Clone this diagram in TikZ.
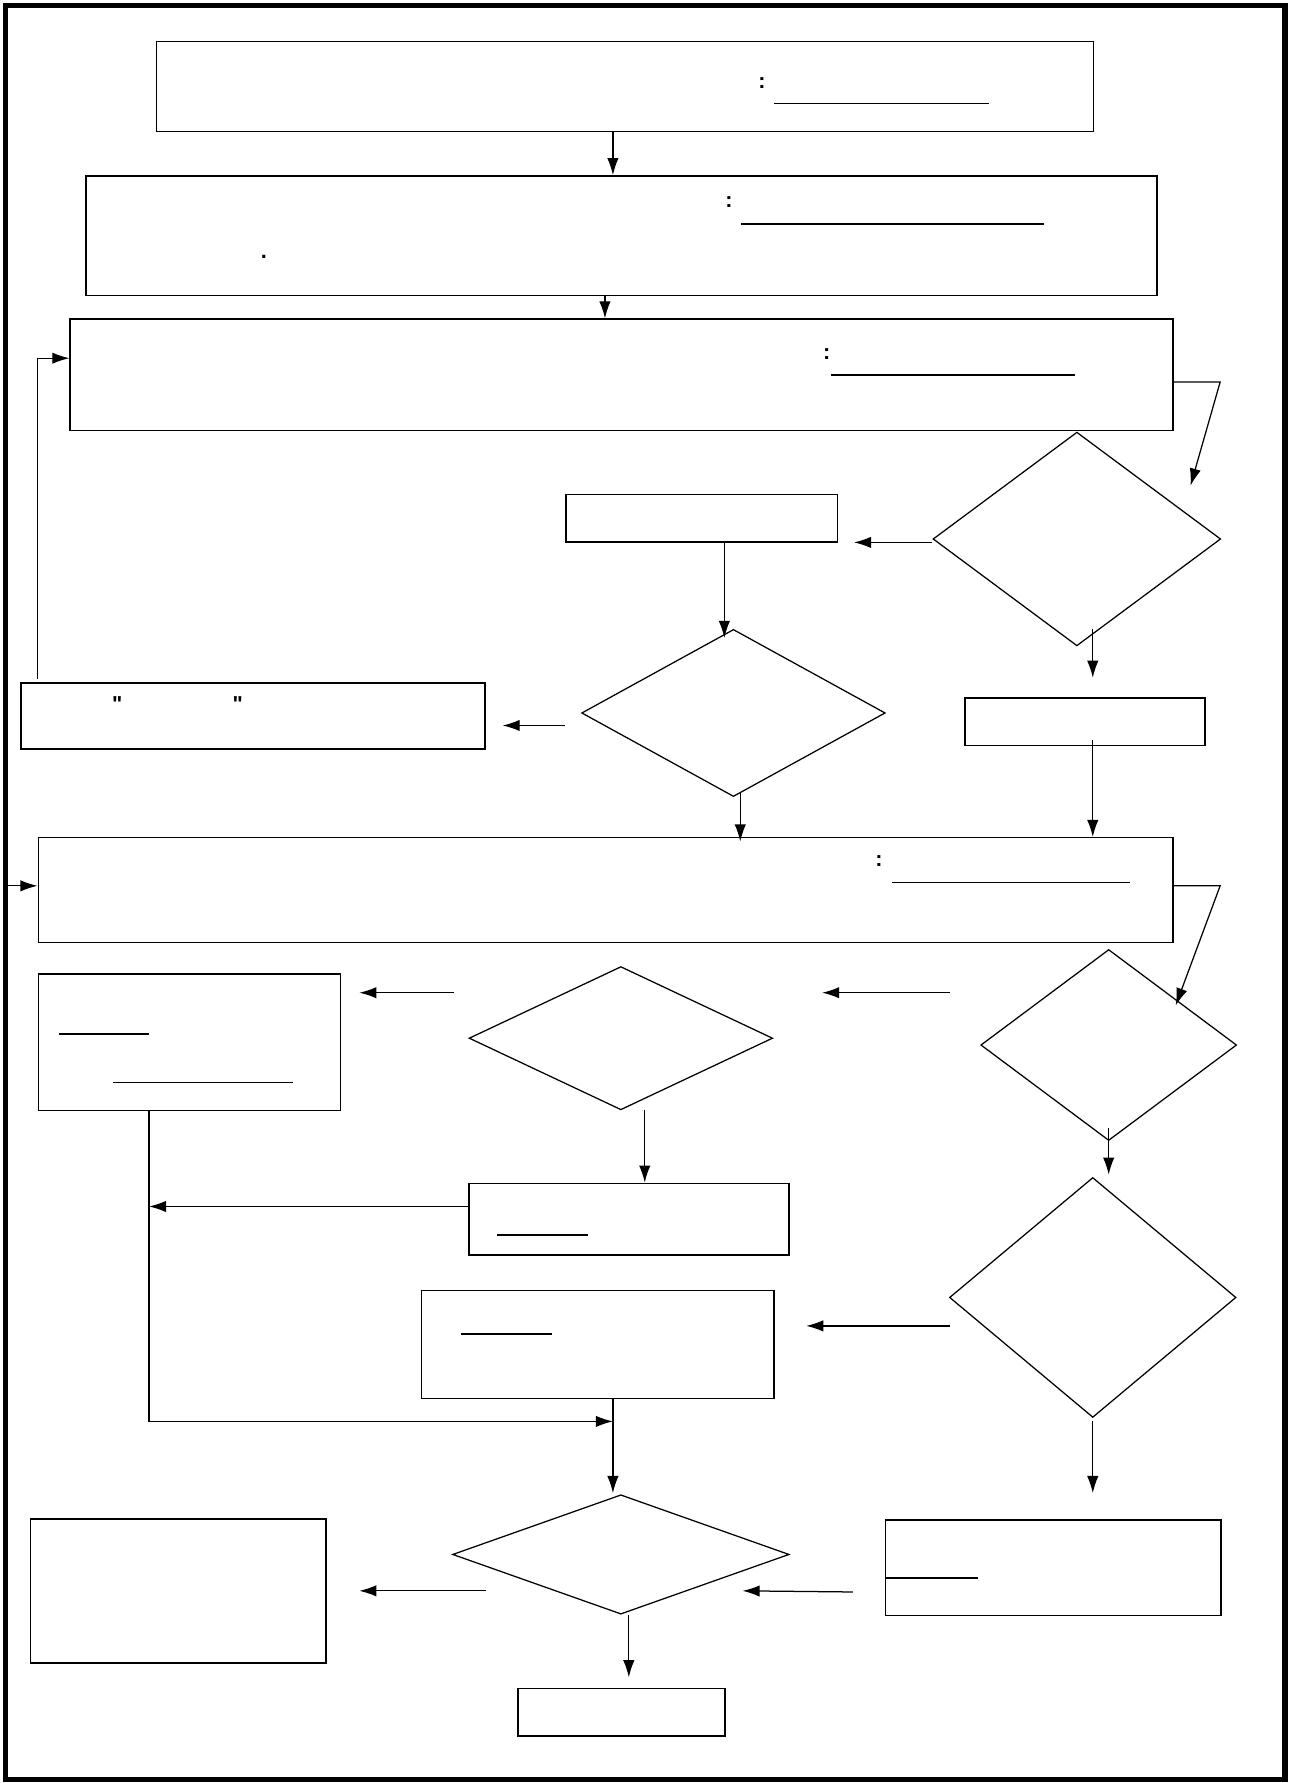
\documentclass[tikz,border=0pt]{standalone}
\usepackage{fontspec}
\setmainfont{Liberation Sans}
\newfontfamily\qfont{Liberation Sans}
\usetikzlibrary{shapes.geometric,arrows.meta}
\begin{document}
\begin{tikzpicture}[x=1pt,y=-1pt,
 box/.style={draw,line width=1.3pt,inner sep=0pt,anchor=north west},
 dia/.style={draw,diamond,line width=1.1pt,inner sep=0pt},
 arr/.style={-{Latex[length=15pt,width=10pt]},line width=1.1pt},
 ul/.style={line width=1.5pt},
 lbl/.style={inner sep=0pt,font=\qfont\bfseries\fontsize{19}{21}\selectfont}]
\useasboundingbox (0,0) rectangle (1135,1568);
\draw[line width=4.5pt] (5,5) rectangle (1130,1565);
% boxes
\node[box,minimum width=824pt,minimum height=79pt] (b1) at (137,36) {};
\node[box,minimum width=942pt,minimum height=105pt] (b2) at (75,154) {};
\node[box,minimum width=970pt,minimum height=98pt] (b3) at (61,280) {};
\node[box,minimum width=239pt,minimum height=42pt] (b4) at (497,434) {};
\node[box,minimum width=408pt,minimum height=58pt] (b5) at (18,600) {};
\node[box,minimum width=211pt,minimum height=42pt] (b6) at (848,613) {};
\node[box,minimum width=998pt,minimum height=92pt] (b7) at (33,736) {};
\node[box,minimum width=266pt,minimum height=120pt] (b8) at (33,856) {};
\node[box,minimum width=281pt,minimum height=63pt] (b9) at (412,1040) {};
\node[box,minimum width=310pt,minimum height=95pt] (b10) at (370,1134) {};
\node[box,minimum width=260pt,minimum height=127pt] (b11) at (26,1335) {};
\node[box,minimum width=295pt,minimum height=84pt] (b12) at (778,1336) {};
\node[box,minimum width=182pt,minimum height=42pt] (b13) at (455,1484) {};
% diamonds
\node[dia,minimum width=253pt,minimum height=188pt] (d1) at (947,474) {};
\node[dia,minimum width=267pt,minimum height=147pt] (d2) at (645,627) {};
\node[dia,minimum width=225pt,minimum height=168pt] (d3) at (975,919) {};
\node[dia,minimum width=267pt,minimum height=126pt] (d4) at (546,913) {};
\node[dia,minimum width=252pt,minimum height=211pt] (d5) at (961,1141) {};
\node[dia,minimum width=296pt,minimum height=105pt] (d6) at (546,1367) {};
% labels
\node[lbl] (t1) at (670,73) {:};
\draw[ul] (681,91) -- (870,91);
\node[lbl] (t2) at (641,178) {:};
\draw[ul] (652,197) -- (918,197);
\node[lbl] (t3) at (232,226) {.};
\node[lbl] (t4) at (727,311) {:};
\draw[ul] (731,330) -- (945,330);
\node[lbl] (q1) at (103,619) {"};
\node[lbl] (q2) at (209,619) {"};
\node[lbl] (t5) at (773,757) {:};
\draw[ul] (784,776) -- (994,776);
\draw[ul] (52,909) -- (131,909);
\draw[ul] (99,952) -- (258,952);
\draw[ul] (437,1086) -- (517,1086);
\draw[ul] (405,1173) -- (485,1173);
\draw[ul] (778,1388) -- (860,1388);
% free ends
\coordinate (c1) at (1047,427);
\coordinate (c2) at (1034,884);
% connectors
\draw[arr] (b1.south -| 539,0) -- (b2.north -| 539,0);
\draw[arr] (b2.south -| 532,0) -- (b3.north -| 532,0);
\draw[arr] (b3.east |- 0,336) -- (1073,336) -- (c1);
\draw[arr] (d1.west |- 0,477) -- (751,477);
\draw[arr] (b4.south -| 637,0) -- (637,561);
\draw[arr] (497,638) -- (442,638);
\draw[arr] (33,597) -- (33,315) -- (b3.west |- 0,315);
\draw[arr] (961,553) -- (961,596);
\draw[arr] (961,651) -- (b7.north -| 961,0);
\draw[arr] (651,697) -- (651,740);
\draw[arr] (5,779) -- (b7.west |- 0,779);
\draw[arr] (b7.east |- 0,779) -- (1073,779) -- (c2);
\draw[arr] (835,873) -- (723,873);
\draw[arr] (399,873) -- (316,873);
\draw[arr] (567,976) -- (b9.north -| 567,0);
\draw[arr] (b9.west |- 0,1061) -- (131,1061);
\draw[arr] (b8.south -| 131,0) -- (131,1250) -- (539,1250);
\draw[arr] (975,992) -- (975,1033);
\draw[arr] (835,1166) -- (709,1166);
\draw[arr] (b10.south -| 539,0) -- (539,1313);
\draw[arr] (961,1250) -- (961,1313);
\draw[arr] (427,1399) -- (316,1399);
\draw[arr] (750,1400) -- (653,1399);
\draw[arr] (553,1420) -- (553,1475);
\end{tikzpicture}
\end{document}
